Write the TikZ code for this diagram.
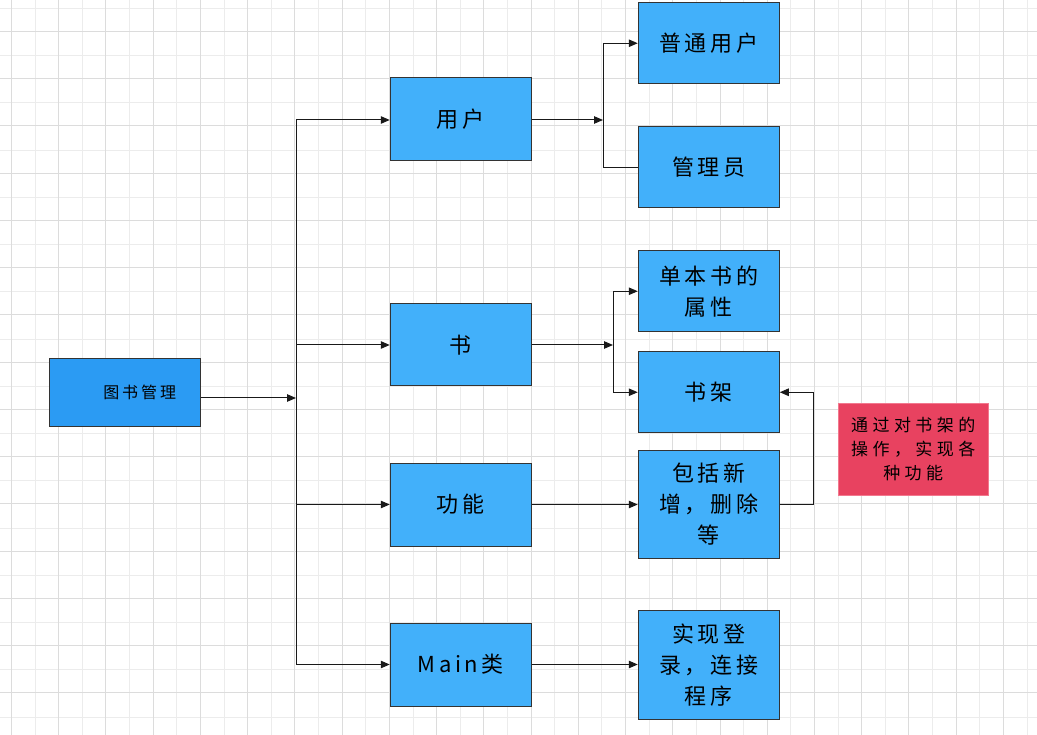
\documentclass[tikz,border=0pt]{standalone}
\usepackage{fontspec}
\newfontfamily\cjk[LetterSpace=16]{Noto Sans CJK SC}
\newfontfamily\cjkroot[LetterSpace=18]{Noto Sans CJK SC}
\newfontfamily\cjknote[LetterSpace=26]{Noto Sans CJK SC}
\usetikzlibrary{arrows.meta,calc}
\definecolor{gridmajor}{RGB}{220,220,220}
\definecolor{gridminor}{RGB}{236,236,236}
\definecolor{boxblue}{RGB}{66,176,250}
\definecolor{rootblue}{RGB}{43,155,243}
\definecolor{notered}{RGB}{232,66,96}
\definecolor{noteedge}{RGB}{242,120,142}
\definecolor{edgegray}{RGB}{51,51,51}
\begin{document}
\begin{tikzpicture}[x=1pt,y=-1pt,
  box/.style={draw=edgegray,line width=1pt,fill=boxblue,inner sep=0pt,minimum width=141pt,align=center,font=\cjk\fontsize{22}{31}\selectfont},
  rootbox/.style={draw=edgegray,line width=1pt,fill=rootblue,inner sep=0pt,minimum width=151pt,minimum height=68pt,font=\cjkroot\fontsize{16}{20}\selectfont},
  notebox/.style={draw=noteedge,line width=1pt,fill=notered,inner sep=0pt,minimum width=150pt,minimum height=91.5pt,align=center,font=\cjknote\fontsize{17}{24}\selectfont},
  conn/.style={draw=black!90,line width=1pt},
  arr/.style={conn,-{Triangle[length=9pt,width=7.5pt]}}
]
\useasboundingbox (0,0) rectangle (1037,735);
% grid
\foreach \k in {0,...,22} {
  \draw[gridminor,line width=0.8pt] ({35+47.24*\k},0) -- ({35+47.24*\k},735);
  \draw[gridminor,line width=0.8pt] (0,{8.3+47.24*\k}) -- (1037,{8.3+47.24*\k});
}
\foreach \k in {0,...,22} {
  \draw[gridmajor,line width=0.8pt] ({11.3+47.24*\k},0) -- ({11.3+47.24*\k},735);
  \draw[gridmajor,line width=0.8pt] (0,{31.3+47.24*\k}) -- (1037,{31.3+47.24*\k});
}
% nodes
\node[rootbox] (root) at (124.7,392.2) {\hspace*{30pt}图书管理};
\node[box,minimum height=83pt] (user) at (460.75,119.5) {用户};
\node[box,minimum height=82pt] (book) at (460.75,345) {书};
\node[box,minimum height=83pt] (func) at (460.75,504.5) {功能};
\node[box,minimum height=83pt] (main) at (460.75,664.5) {Main类};
\node[box,minimum height=81.5pt] (normal) at (708.75,43.25) {普通用户};
\node[box,minimum height=81.5pt] (admin) at (708.75,167.25) {管理员};
\node[box,minimum height=81.5pt] (attr) at (708.75,291.25) {单本书的\\属性};
\node[box,minimum height=81.5pt] (shelf) at (708.75,392.25) {书架};
\node[box,minimum height=108.5pt] (incl) at (708.75,504.5) {包括新\\增，删除\\等};
\node[box,minimum height=108.5pt] (impl) at (708.75,665) {实现登\\录，连接\\程序};
\node[notebox] (note) at (913.25,449.25) {通过对书架的\\操作，实现各\\种功能};
% junction coordinates
\coordinate (busR) at (296,398);
\coordinate (busT) at (296,120);
\coordinate (busB) at (296,663.5);
\coordinate (uj) at (603,120);
\coordinate (bj) at (613,345);
% connectors
\draw[arr] (root.east |- busR) -- (busR);
\draw[conn] (busT) -- (busB);
\draw[arr] (busT) -- (user.west |- busT);
\draw[arr] (busT |- book.west) -- (book.west);
\draw[arr] (busT |- func.west) -- (func.west);
\draw[arr] (busT |- main.west) -- (main.west);
\draw[arr] (user.east |- uj) -- (uj);
\draw[arr] (admin.west) -- (admin.west -| uj) |- (normal.west);
\draw[arr] (book.east) -- (bj);
\draw[arr] (bj) |- (attr.west);
\draw[arr] (bj) |- (shelf.west);
\draw[arr] (func.east) -- (incl.west);
\draw[arr] (incl.east) -- ++(34,0) |- (shelf.east);
\draw[arr] (main.east) -- (main.east -| impl.west);
\end{tikzpicture}
\end{document}
